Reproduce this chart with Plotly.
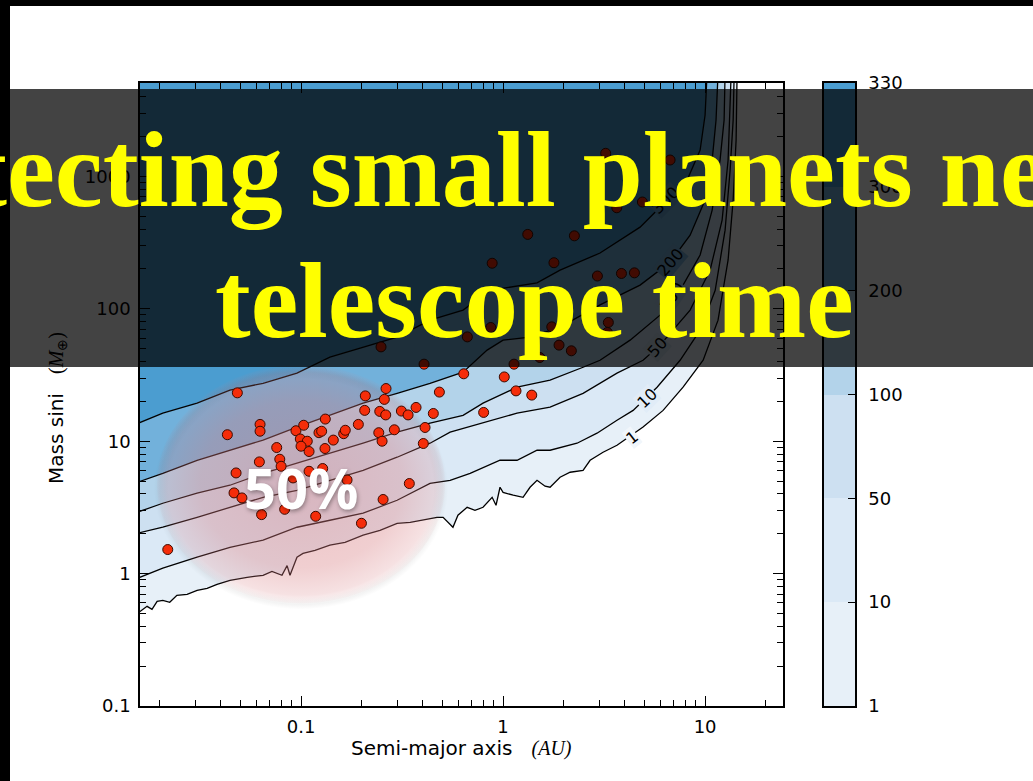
import math
import numpy as np
import plotly.graph_objects as go

# ---------------- figure geometry ----------------
W, H = 1033, 781
ML, MR, MT, MB = 140, 178, 83, 75
PW = W - ML - MR
PH = H - MT - MB


def px_x(px):
    return (px - ML) / PW


def px_y(py):
    return (H - MB - py) / PH


X_RANGE = [0.01596, 24.3]
Y_RANGE = [0.1, 5080]

# ---------------- data ----------------
levels = [1, 10, 50, 100, 200, 300, 330]
level_labels = ["1", "10", "50", "100", "200", "300", "330"]
band_colors = ["#e7f0f8", "#dbe9f6", "#cde0f1", "#b3d3ea", "#72b1db", "#4b9dd0"]

# contour lines (semi-major axis AU, mass M_earth)
lvl1_a = [0.0155, 0.0173, 0.0183, 0.0194, 0.0207, 0.0224, 0.0243, 0.0273, 0.0306, 0.0343, 0.0384, 0.0445,
          0.0541, 0.0649, 0.0718, 0.0805, 0.0853, 0.0882, 0.0955, 0.1023, 0.1173, 0.139, 0.1652, 0.203,
          0.246, 0.299, 0.347, 0.402, 0.471, 0.505, 0.534, 0.565, 0.598, 0.664, 0.726, 0.796, 0.883, 0.923,
          0.966, 1.0, 1.122, 1.256, 1.36, 1.473, 1.614, 1.709, 1.915, 2.148, 2.489, 2.697, 3.126, 3.664,
          4.932, 6.196, 7.78, 9.78, 11.59, 13.0, 13.77, 14.24, 14.40]
lvl1_m = [0.501, 0.566, 0.537, 0.617, 0.628, 0.607, 0.686, 0.698, 0.748, 0.774, 0.830, 0.889, 0.938, 0.971,
          1.04, 0.971, 1.15, 0.971, 1.33, 1.42, 1.50, 1.64, 1.72, 1.95, 2.12, 2.40, 2.44, 2.53, 2.66, 2.66,
          2.44, 2.24, 2.76, 3.17, 3.01, 3.17, 3.77, 3.28, 4.49, 4.11, 3.91, 3.77, 4.49, 5.07, 4.57, 4.49,
          5.34, 5.83, 6.03, 7.18, 8.26, 9.33, 12.8, 17.1, 25.6, 40.9, 82.1, 234, 663, 1884, 6000]

lvl10_a = [0.0155, 0.0207, 0.0306, 0.0445, 0.0649, 0.0955, 0.139, 0.203, 0.299, 0.435, 0.547, 0.687, 0.966,
           1.173, 1.473, 1.709, 2.324, 2.918, 3.664, 4.403, 5.786, 7.52, 9.45, 11.22, 12.56, 13.3, 13.77, 13.93]
lvl10_m = [0.921, 1.10, 1.33, 1.58, 1.79, 2.24, 2.53, 2.86, 3.58, 4.81, 5.07, 5.72, 7.18, 7.18, 8.55, 8.55,
           9.66, 11.5, 14.4, 17.1, 25.6, 40.9, 69.0, 138, 393, 1117, 2669, 6000]

lvl50_a = [0.0155, 0.0207, 0.0306, 0.0445, 0.0649, 0.0955, 0.139, 0.203, 0.299, 0.435, 0.547, 0.796, 1.173,
           1.709, 2.489, 3.664, 4.932, 5.984, 8.43, 10.59, 12.14, 13.0, 13.3, 13.46]
lvl50_m = [2.02, 2.24, 2.66, 3.17, 3.77, 4.26, 5.07, 6.03, 7.57, 9.66, 11.7, 13.7, 16.3, 18.1, 23.0, 32.7,
           40.9, 53.2, 97.8, 196, 468, 1330, 3176, 6000]

lvl100_a = [0.0155, 0.0207, 0.0306, 0.0445, 0.0649, 0.0955, 0.139, 0.203, 0.299, 0.435, 0.634, 0.796, 1.173,
            1.709, 2.489, 3.02, 4.254, 5.984, 7.52, 9.45, 10.84, 11.86, 12.42, 12.56]
lvl100_m = [2.91, 3.40, 4.05, 4.65, 5.72, 6.81, 8.11, 9.66, 11.7, 13.7, 15.7, 19.4, 25.6, 28.9, 36.2, 40.9,
            58.0, 89.6, 138, 255, 557, 1330, 2669, 6000]

lvl200_a = [0.0155, 0.0207, 0.0306, 0.0445, 0.0649, 0.0955, 0.139, 0.203, 0.299, 0.435, 0.634, 0.834, 1.0,
            1.36, 1.915, 3.02, 4.767, 6.71, 8.43, 10.0, 10.84, 11.33, 11.59]
lvl200_m = [4.90, 5.72, 7.18, 8.55, 10.2, 12.8, 15.7, 19.4, 23.0, 27.4, 33.2, 48.8, 58.0, 61.1, 72.7, 107,
            151, 225, 360, 663, 1330, 2669, 6000]

lvl300_a = [0.0155, 0.0207, 0.0306, 0.0445, 0.0649, 0.0955, 0.139, 0.203, 0.299, 0.435, 0.634, 0.863, 1.083,
            1.473, 1.915, 3.02, 4.767, 5.984, 8.15, 9.45, 10.0, 10.23]
lvl300_m = [13.6, 16.3, 19.4, 24.3, 27.4, 32.7, 43.2, 51.4, 61.1, 82.1, 97.8, 138, 146, 157, 196, 264, 414,
            588, 939, 1583, 2909, 6000]

# contour label positions (a, M, angle)
clabel_text = ["1", "10", "50", "100", "200", "300"]
clabel_a = [4.36, 5.16, 5.78, 6.87, 6.71, 6.34]
clabel_m = [10.7, 21.1, 51.4, 123, 225, 663]
clabel_angle = [-38, -44, -48, -55, -50, -45]
clabel_bg = ["#f1f6fb", "#e1ecf7", "#353a3e", "#2f373e", "#1f2e39", "#1b2b37"]

# planets
planet_a = [0.0484, 0.0432, 0.0627, 0.0627, 0.0944, 0.1031, 0.0992, 0.1074, 0.100, 0.1096, 0.1319, 0.1227,
            0.1265, 0.1445, 0.1314, 0.1626, 0.1656, 0.1922, 0.2081, 0.2066, 0.2635, 0.2585, 0.2453, 0.2626,
            0.2426, 0.2519, 0.2897, 0.3139, 0.3388, 0.3710, 0.4517, 0.4840, 0.6387, 0.4111, 0.4030, 0.0758,
            0.0785, 0.0797, 0.0622, 0.0477, 0.0466, 0.0510, 0.0638, 0.0830, 0.0913, 0.1096, 0.1280, 0.1690,
            0.1182, 0.1991, 0.2548, 0.3436, 0.0219, 1.014, 1.159, 1.387, 0.8015, 0.4064, 1.133, 1.325,
            0.8833, 0.8696, 0.6656, 0.2489, 3.221, 6.71, 3.656, 4.894, 2.254, 1.786, 2.931, 3.855, 4.469,
            3.320, 3.283, 1.742, 1.893, 2.178, 1.520]
planet_m = [23.2, 11.2, 13.4, 11.9, 12.0, 13.2, 10.4, 10.0, 9.17, 8.36, 14.7, 11.6, 11.9, 10.2, 8.81, 11.4,
            12.1, 13.4, 22.0, 17.1, 25.0, 20.7, 16.8, 15.8, 11.6, 10.0, 12.2, 16.9, 15.8, 18.0, 16.2, 23.5,
            32.3, 12.7, 9.61, 8.96, 7.31, 6.47, 6.98, 5.76, 4.07, 3.73, 2.79, 3.06, 5.28, 5.93, 6.22, 5.10,
            2.71, 2.40, 3.63, 4.79, 1.52, 30.6, 24.0, 22.3, 16.5, 38.2, 38.2, 365, 221, 72.3, 61.4, 51.6,
            1496, 1331, 580, 641, 356, 223, 177, 185, 187, 78.9, 66.3, 73.1, 53.2, 48.2, 42.9]

x_tickvals = [0.1, 1, 10]
x_ticktext = ["0.1", "1", "10"]
y_tickvals = [0.1, 1, 10, 100, 1000]
y_ticktext = ["0.1", "1", "10", "100", "1000"]
x_minor = [m * 10.0 ** e for e in (-2, -1, 0, 1) for m in range(2, 10)]
y_minor = [m * 10.0 ** e for e in (-1, 0, 1, 2, 3) for m in range(2, 10)]

title_line1 = "Detecting small planets needs"
title_line2 = "telescope time"
badge_text = "50%"

# ---------------- figure ----------------
fig = go.Figure()
LINE = dict(color="black", width=1.3)
XR = X_RANGE[0] * 0.97
YT = 6000

# top band (300-330): area above the 300 line
fig.add_trace(go.Scatter(x=lvl300_a + [XR], y=lvl300_m + [YT], mode="none", fill="toself",
                         fillcolor=band_colors[5], hoverinfo="skip", showlegend=False))
lines = [(lvl1_a, lvl1_m), (lvl10_a, lvl10_m), (lvl50_a, lvl50_m),
         (lvl100_a, lvl100_m), (lvl200_a, lvl200_m), (lvl300_a, lvl300_m)]
for i, (la, lm) in enumerate(lines):
    fig.add_trace(go.Scatter(
        x=la, y=lm, mode="lines", line=LINE,
        fill="none" if i == 0 else "tonexty",
        fillcolor=band_colors[i - 1] if i > 0 else None,
        hoverinfo="skip", showlegend=False))

# highlight ellipse (decoration)
t = np.linspace(0, 2 * np.pi, 181)
cx, cy, rx, ry = -1.0, 0.675, 0.713, 0.90
sx = 10 ** (cx + (rx + 0.015) * np.cos(t))
sy = 10 ** (cy - 0.03 + (ry + 0.015) * np.sin(t))
fig.add_trace(go.Scatter(x=sx, y=sy, mode="none", fill="toself",
                         fillgradient=dict(type="radial", colorscale=[
                             [0, "rgba(0,0,0,0)"], [0.9, "rgba(0,0,0,0)"],
                             [0.96, "rgba(60,60,60,0.06)"], [1, "rgba(60,60,60,0)"]]),
                         hoverinfo="skip", showlegend=False))
ex = 10 ** (cx + rx * np.cos(t))
ey = 10 ** (cy + ry * np.sin(t))
fig.add_trace(go.Scatter(x=ex, y=ey, mode="none", fill="toself",
                         fillgradient=dict(type="radial", colorscale=[
                             [0, "rgba(214,120,125,0.46)"], [0.7, "rgba(214,120,125,0.36)"],
                             [0.93, "rgba(214,120,125,0.22)"], [1, "rgba(214,120,125,0.04)"]]),
                         hoverinfo="skip", showlegend=False))

# planets
fig.add_trace(go.Scatter(x=planet_a, y=planet_m, mode="markers",
                         marker=dict(size=10, color="#f52d0a", line=dict(color="#3b0a00", width=1)),
                         hoverinfo="skip", showlegend=False))

# colorbar as its own small subplot
fig.add_trace(go.Bar(x=[0] * (len(levels) - 1), y=[1] * (len(levels) - 1),
                     base=list(range(len(levels) - 1)), width=[1] * (len(levels) - 1),
                     marker=dict(color=band_colors, line=dict(width=0)),
                     xaxis="x2", yaxis="y2", hoverinfo="skip", showlegend=False))

TICKFONT = dict(family="DejaVu Sans", size=18, color="black")
axis_common = dict(showline=True, linecolor="black", linewidth=1.5, mirror="allticks",
                   ticks="inside", ticklen=10, tickwidth=1.3, tickcolor="black",
                   showgrid=False, zeroline=False, tickfont=TICKFONT)

fig.update_layout(
    width=W, height=H, autosize=False,
    margin=dict(l=ML, r=MR, t=MT, b=MB, pad=0),
    paper_bgcolor="white", plot_bgcolor="white",
    hovermode=False, bargap=0,
    xaxis=dict(type="log", range=[math.log10(X_RANGE[0]), math.log10(X_RANGE[1])],
               domain=[0, px_x(783)], tickvals=x_tickvals, ticktext=x_ticktext,
               minor=dict(tickvals=x_minor, ticks="inside", ticklen=6, tickwidth=1.1, tickcolor="black"),
               ticklabelstandoff=4, **axis_common),
    yaxis=dict(type="log", range=[math.log10(Y_RANGE[0]), math.log10(Y_RANGE[1])],
               domain=[0, 1], tickvals=y_tickvals, ticktext=y_ticktext,
               minor=dict(tickvals=y_minor, ticks="inside", ticklen=6, tickwidth=1.1, tickcolor="black"),
               ticklabelstandoff=4, **axis_common),
    xaxis2=dict(domain=[px_x(824), 1.0], range=[-0.5, 0.5], anchor="y2", showline=True,
                linecolor="black", linewidth=1.5, mirror=True, showticklabels=False, ticks="",
                showgrid=False, zeroline=False, fixedrange=True),
    yaxis2=dict(domain=[0, 1], range=[0, len(levels) - 1], anchor="x2", side="right",
                tickvals=list(range(len(levels))), ticktext=level_labels,
                showline=True, linecolor="black", linewidth=1.5, mirror=True,
                ticks="inside", ticklen=7, tickwidth=1.2, tickcolor="black",
                showgrid=False, zeroline=False, tickfont=TICKFONT, ticklabelstandoff=8),
)

annotations = []
# contour labels
for txt, a, m, ang, bg in zip(clabel_text, clabel_a, clabel_m, clabel_angle, clabel_bg):
    annotations.append(dict(x=math.log10(a), y=math.log10(m), xref="x", yref="y", text=txt,
                            showarrow=False, textangle=ang, bgcolor=bg, borderpad=0,
                            font=dict(family="DejaVu Sans", size=16, color="black")))
# axis titles
annotations.append(dict(x=px_x(461), y=px_y(748), xref="paper", yref="paper", showarrow=False,
                        text="Semi-major axis   <span style=\"font-family:'Liberation Serif'\"><i>(AU)</i></span>",
                        font=dict(family="DejaVu Sans", size=20, color="black"),
                        xanchor="center", yanchor="middle"))
annotations.append(dict(x=px_x(57), y=px_y(408), xref="paper", yref="paper", showarrow=False,
                        textangle=-90,
                        text="Mass sini   <span style=\"font-family:'Liberation Serif'\">(<i>M</i><sub>⊕</sub>)</span>",
                        font=dict(family="DejaVu Sans", size=20, color="black"),
                        xanchor="center", yanchor="middle"))
# 50% badge
annotations.append(dict(x=px_x(301), y=px_y(487), xref="paper", yref="paper", showarrow=False,
                        text="<b>%s</b>" % badge_text,
                        font=dict(family="Open Sans", size=56, color="white",
                                  shadow="1px 2px 4px rgba(0,0,0,0.35)"),
                        xanchor="center", yanchor="middle"))
# banner title
annotations.append(dict(x=px_x(521), y=px_y(170), xref="paper", yref="paper", showarrow=False,
                        text="<b>%s</b>" % title_line1,
                        font=dict(family="Liberation Serif", size=108, color="#ffff00"),
                        xanchor="center", yanchor="middle"))
annotations.append(dict(x=px_x(534), y=px_y(301), xref="paper", yref="paper", showarrow=False,
                        text="<b>%s</b>" % title_line2,
                        font=dict(family="Liberation Serif", size=107, color="#ffff00"),
                        xanchor="center", yanchor="middle"))
fig.update_layout(annotations=annotations)

shapes = [
    # translucent dark banner
    dict(type="rect", xref="paper", yref="paper", x0=px_x(10), x1=px_x(W + 5), y0=px_y(367), y1=px_y(89),
         fillcolor="rgba(0,0,0,0.737)", line=dict(width=0), layer="above"),
    # black frame strips (top and left)
    dict(type="rect", xref="paper", yref="paper", x0=px_x(-5), x1=px_x(W + 5), y0=px_y(6), y1=px_y(-5),
         fillcolor="black", line=dict(width=0), layer="above"),
    dict(type="rect", xref="paper", yref="paper", x0=px_x(-5), x1=px_x(10), y0=px_y(H + 5), y1=px_y(-5),
         fillcolor="black", line=dict(width=0), layer="above"),
]
fig.update_layout(shapes=shapes)

fig.write_html("out.html", config={"displayModeBar": False},
               post_script="document.body.style.margin='0';")
